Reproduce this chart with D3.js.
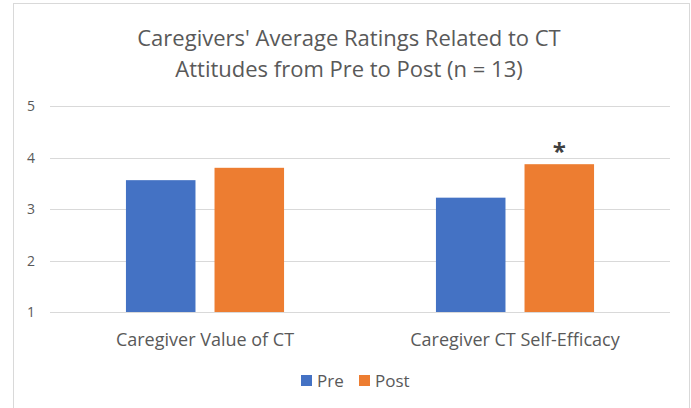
<!DOCTYPE html>
<html>
<head>
<meta charset="utf-8">
<script src="https://cdn.jsdelivr.net/npm/d3@7"></script>
<style>
  body { margin: 0; background: #fff; }
  text { font-family: "Open Sans", "Liberation Sans", sans-serif; fill: #595959; }
</style>
</head>
<body>
<div class="chart"></div>
<script>
// data
const categories = ["Caregiver Value of CT", "Caregiver CT Self-Efficacy"];
const seriesNames = ["Pre", "Post"];
const preValues = [3.56, 3.22];
const postValues = [3.80, 3.87];
const yTicks = [1, 2, 3, 4, 5];
const significant = [false, true];   // asterisk above the Post bar

const colors = {Pre: "#4472C4", Post: "#ED7D31"};

const w = 691;
const h = 408;

const svg = d3.select(".chart")
  .append("svg")
  .attr("width", w)
  .attr("height", h);

// chart frame
svg.append("rect")
  .attr("x", 13.5).attr("y", 3.5)
  .attr("width", 676).attr("height", 420)
  .attr("fill", "#fff")
  .attr("stroke", "#D9D9D9");

// title
const title = svg.append("text")
  .attr("text-anchor", "middle")
  .style("font-size", "22px");
title.append("tspan").attr("x", 349).attr("y", 46).text("Caregivers' Average Ratings Related to CT");
title.append("tspan").attr("x", 349).attr("y", 77).text("Attitudes from Pre to Post (n = 13)");

const plotL = 50, plotR = 670, plotT = 106, plotB = 312;

const x0 = d3.scaleBand()
  .domain(categories)
  .range([plotL, plotR])
  .paddingInner(0.49)
  .paddingOuter(0.245);

const x1 = d3.scaleBand()
  .domain(seriesNames)
  .range([0, x0.bandwidth()])
  .paddingInner(0.215);

const y = d3.scaleLinear()
  .domain([1, 5])
  .range([plotB, plotT]);

// gridlines
svg.append("g").selectAll("line")
  .data(yTicks)
  .enter()
  .append("line")
  .attr("x1", plotL).attr("x2", plotR)
  .attr("y1", d => Math.round(y(d)) + 0.5)
  .attr("y2", d => Math.round(y(d)) + 0.5)
  .attr("stroke", "#D9D9D9")
  .attr("stroke-width", 1);

// y tick labels
svg.append("g").selectAll("text")
  .data(yTicks)
  .enter()
  .append("text")
  .attr("x", 35)
  .attr("y", d => y(d) + 5)
  .attr("text-anchor", "end")
  .style("font-size", "14px")
  .text(d => d);

// bars
const rows = categories.map((c, i) => ({
  cat: c,
  values: [{s: "Pre", v: preValues[i]}, {s: "Post", v: postValues[i]}],
  sig: significant[i]
}));

const groups = svg.append("g").selectAll("g")
  .data(rows)
  .enter()
  .append("g")
  .attr("transform", d => `translate(${x0(d.cat)},0)`);

groups.selectAll("rect")
  .data(d => d.values)
  .enter()
  .append("rect")
  .attr("x", d => x1(d.s))
  .attr("y", d => y(d.v))
  .attr("width", x1.bandwidth())
  .attr("height", d => y(1) - y(d.v))
  .attr("fill", d => colors[d.s]);

groups.filter(d => d.sig)
  .append("text")
  .attr("x", x1("Post") + x1.bandwidth() / 2)
  .attr("y", d => y(d.values[1].v) - 4)
  .attr("text-anchor", "middle")
  .style("font-size", "24px")
  .style("font-weight", "bold")
  .style("fill", "#404040")
  .text("*");

// category labels
svg.append("g").selectAll("text")
  .data(categories)
  .enter()
  .append("text")
  .attr("x", d => x0(d) + x0.bandwidth() / 2)
  .attr("y", 346)
  .attr("text-anchor", "middle")
  .style("font-size", "18px")
  .text(d => d);

// legend
const legend = svg.append("g");
const legendX = [301, 359];
seriesNames.forEach((s, i) => {
  legend.append("rect")
    .attr("x", legendX[i]).attr("y", 375)
    .attr("width", 11).attr("height", 11)
    .attr("fill", colors[s]);
  legend.append("text")
    .attr("x", legendX[i] + 16)
    .attr("y", 387)
    .style("font-size", "17px")
    .text(s);
});
</script>
</body>
</html>
